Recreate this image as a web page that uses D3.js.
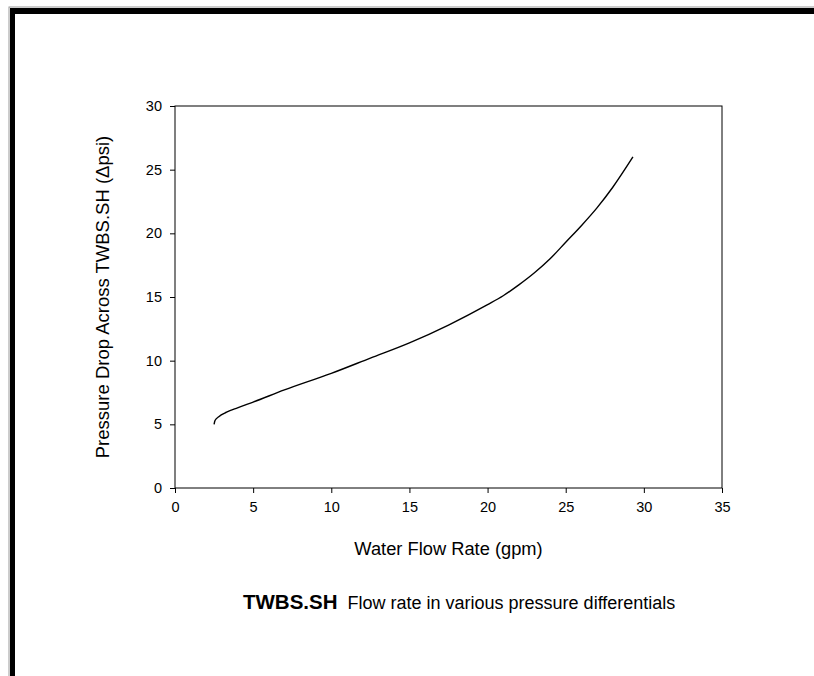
<!DOCTYPE html>
<html>
<head>
<meta charset="utf-8">
<script src="https://cdn.jsdelivr.net/npm/d3@7"></script>
<style>
  body { margin: 0; background: #fff; }
  text { font-family: "Liberation Sans", Arial, sans-serif; fill: #000; }
</style>
</head>
<body>
<svg id="graph"></svg>
<script>
// curve
var flow = [2.5, 2.56, 2.8, 3.3, 4, 5, 7, 10, 12.5, 15, 17.5, 20, 21, 22, 23, 24, 25, 26, 27, 28, 29.3];
var drop = [5.0, 5.3, 5.6, 5.95, 6.3, 6.75, 7.7, 9.0, 10.2, 11.4, 12.8, 14.4, 15.1, 15.95, 16.9, 18.0, 19.3, 20.6, 22.0, 23.6, 26.0];
var xTicks = [0, 5, 10, 15, 20, 25, 30, 35];
var yTicks = [0, 5, 10, 15, 20, 25, 30];

width = 814;
height = 676;
margin = {left: 175, top: 106, right: 92, bottom: 188};

svg = d3.select("#graph")
    .attr("width", width)
    .attr("height", height);

// outer frame: thick black top & left, thin grey outline
svg.append("rect").attr("x", 9).attr("y", 7).attr("width", width).attr("height", height)
    .attr("style", "fill:none; stroke:#999; stroke-width:1");
svg.append("rect").attr("x", 10).attr("y", 8).attr("width", width).attr("height", 6).attr("fill", "#000");
svg.append("rect").attr("x", 10).attr("y", 8).attr("width", 5).attr("height", height).attr("fill", "#000");

x = d3.scaleLinear().domain([0, 35]).range([margin.left, width - margin.right]);
y = d3.scaleLinear().domain([0, 30]).range([height - margin.bottom, margin.top]);

chart = svg.append("g");

// plot box
chart.append("rect")
    .attr("x", x(0)).attr("y", y(30))
    .attr("width", x(35) - x(0)).attr("height", y(0) - y(30))
    .attr("style", "fill:none; stroke:#000; stroke-width:1");

gx = chart.append("g")
    .attr("transform", "translate(0," + y(0) + ")")
    .call(d3.axisBottom(x).tickValues(xTicks).tickSize(5).tickPadding(9).tickFormat(d3.format("d")));
gy = chart.append("g")
    .attr("transform", "translate(" + x(0) + ",0)")
    .call(d3.axisLeft(y).tickValues(yTicks).tickSize(5).tickPadding(8).tickFormat(d3.format("d")));
[gx, gy].forEach(function(g) {
    g.select(".domain").remove();
    g.selectAll("line").attr("stroke", "#000");
    g.selectAll("text").attr("style", "font: 14.5px 'Liberation Sans', Arial, sans-serif").attr("fill", "#000");
});

// line
line = d3.line()
    .x(function(d, i) { return x(flow[i]); })
    .y(function(d) { return y(d); })
    .curve(d3.curveMonotoneX);
chart.append("path")
    .datum(drop)
    .attr("d", line)
    .attr("style", "fill:none; stroke:#000; stroke-width:1.4");

// axis titles
svg.append("text")
    .attr("x", (x(0) + x(35)) / 2).attr("y", 555)
    .attr("text-anchor", "middle")
    .attr("style", "font-size:18.3px")
    .text("Water Flow Rate (gpm)");
svg.append("text")
    .attr("transform", "translate(109," + (y(0) + y(30)) / 2 + ") rotate(-90)")
    .attr("text-anchor", "middle")
    .attr("style", "font-size:18.5px")
    .text("Pressure Drop Across TWBS.SH (\u0394psi)");

// caption
cap = svg.append("text").attr("x", 243).attr("y", 609).attr("style", "font-size:18px");
cap.append("tspan").attr("font-weight", "bold").attr("style", "font-size:20.5px").text("TWBS.SH");
cap.append("tspan").attr("dx", 10).text("Flow rate in various pressure differentials");
</script>
</body>
</html>
